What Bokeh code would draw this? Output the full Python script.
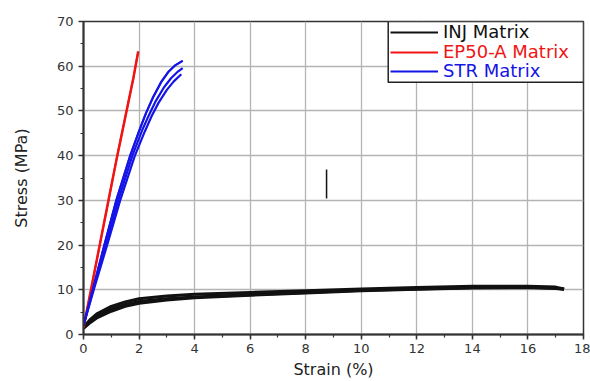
from bokeh.plotting import figure
from bokeh.models import Legend, LegendItem, BoxAnnotation, SingleIntervalTicker, Range1d
from bokeh.embed import file_html
from bokeh.resources import INLINE

# ---- data ----
inj_strain = [0, 0.25, 0.5, 1, 1.5, 2, 3, 4, 6, 8, 10, 12, 14, 16, 17, 17.3]
inj_stress_a = [1.6, 3.4, 4.7, 6.3, 7.3, 8.0, 8.6, 9.0, 9.4, 9.8, 10.2, 10.5, 10.8, 10.8, 10.6, 10.2]
inj_stress_b = [1.5, 3.0, 4.2, 5.7, 6.7, 7.4, 8.0, 8.4, 8.9, 9.4, 9.9, 10.2, 10.5, 10.5, 10.4, 10.1]
inj_stress_c = [1.4, 2.7, 3.8, 5.2, 6.3, 7.0, 7.7, 8.2, 8.8, 9.3, 9.8, 10.1, 10.4, 10.5, 10.3, 10.1]

ep_strain = [0, 0.3, 0.6, 0.9, 1.2, 1.5, 1.8, 1.97]
ep_stress = [1.5, 11, 20.5, 30, 39.5, 48.5, 57.5, 63.3]

str_strain_a = [0, 0.33, 0.75, 1.18, 1.68, 2.0, 2.25, 2.5, 2.8, 3.05, 3.3, 3.57]
str_stress_a = [2, 10, 20, 30, 40, 45.5, 49.5, 53, 56.5, 58.7, 60.2, 61.2]
str_strain_b = [0, 0.35, 0.8, 1.25, 1.76, 2.1, 2.35, 2.6, 2.9, 3.15, 3.4, 3.57]
str_stress_b = [2, 10, 20, 30, 40, 45.5, 49, 52.2, 55.3, 57.3, 58.8, 59.6]
str_strain_c = [0, 0.37, 0.85, 1.32, 1.85, 2.2, 2.45, 2.7, 3.0, 3.25, 3.52]
str_stress_c = [2, 10, 20, 30, 40, 45.3, 48.8, 51.8, 54.7, 56.6, 58.2]

mark_strain = [8.75]
mark_stress_low = [30.4]
mark_stress_high = [36.9]

series_names = ["INJ Matrix", "EP50-A Matrix", "STR Matrix"]
series_colors = ["#111111", "#f01414", "#1414e6"]

FONT = "DejaVu Sans"

p = figure(width=590, height=381, output_backend="svg", toolbar_location=None,
           x_range=Range1d(0, 18), y_range=Range1d(0, 70),
           min_border_left=83, min_border_right=7, min_border_top=21, min_border_bottom=46,
           x_axis_label="Strain (%)", y_axis_label="Stress (MPa)")
p.background_fill_color = "white"
p.border_fill_color = "white"
p.outline_line_color = "#333333"
p.outline_line_width = 1.5

p.xaxis.ticker = SingleIntervalTicker(interval=2, num_minor_ticks=2)
p.yaxis.ticker = SingleIntervalTicker(interval=10, num_minor_ticks=2)

for ax in (p.xaxis[0], p.yaxis[0]):
    ax.axis_line_width = 2
    ax.axis_line_color = "#333333"
    ax.major_tick_line_color = "#333333"
    ax.major_tick_line_width = 1.5
    ax.minor_tick_line_color = "#333333"
    ax.minor_tick_line_width = 1.2
    ax.major_tick_out = 5
    ax.major_tick_in = 0
    ax.minor_tick_out = 3
    ax.minor_tick_in = 0
    ax.major_label_text_font = FONT
    ax.major_label_text_font_size = "13px"
    ax.major_label_text_color = "#333333"
    ax.axis_label_text_font = FONT
    ax.axis_label_text_font_size = "16px"
    ax.axis_label_text_font_style = "normal"
    ax.axis_label_text_color = "#222222"
p.xaxis.major_label_standoff = 4
p.xaxis.axis_label_standoff = 4
p.yaxis.major_label_standoff = 5
p.yaxis.axis_label_standoff = 23

for g in (p.xgrid[0], p.ygrid[0]):
    g.grid_line_color = "#b4b4b4"
    g.grid_line_width = 1.3

# thin key lines (drawn first, covered by the thicker curves below)
key_inj = p.line(inj_strain, inj_stress_b, line_color=series_colors[0], line_width=1.8)
key_ep = p.line(ep_strain, ep_stress, line_color=series_colors[1], line_width=1.8)
key_str = p.line(str_strain_a, str_stress_a, line_color=series_colors[2], line_width=1.8)

# INJ (black band)
p.line(inj_strain, inj_stress_a, line_color=series_colors[0], line_width=3)
p.line(inj_strain, inj_stress_b, line_color=series_colors[0], line_width=3)
p.line(inj_strain, inj_stress_c, line_color=series_colors[0], line_width=3)
# EP50-A (red)
p.line(ep_strain, ep_stress, line_color=series_colors[1], line_width=2.5)
# STR (blue)
p.line(str_strain_a, str_stress_a, line_color=series_colors[2], line_width=2.2)
p.line(str_strain_b, str_stress_b, line_color=series_colors[2], line_width=2.2)
p.line(str_strain_c, str_stress_c, line_color=series_colors[2], line_width=2.2)

p.segment(x0=mark_strain, y0=mark_stress_low, x1=mark_strain, y1=mark_stress_high,
          line_color="#111111", line_width=1.5)

box = BoxAnnotation(left=10.97, right=18, bottom=56.4, top=70,
                    fill_color="white", fill_alpha=1.0,
                    line_color="#222222", line_alpha=1.0, line_width=1.5)
p.add_layout(box)

bottoms = [292, 272, 253]
for name, col, r, b in zip(series_names, series_colors, [key_inj, key_ep, key_str], bottoms):
    lg = Legend(items=[LegendItem(label=name, renderers=[r])], location=(307, b),
                orientation="vertical", padding=0, margin=0, spacing=0,
                glyph_width=48, glyph_height=20, label_height=20, label_standoff=5,
                label_text_font=FONT, label_text_font_size="18px",
                label_text_font_style="normal",
                label_text_color=col, border_line_alpha=0, background_fill_alpha=0)
    p.add_layout(lg)

open("out.html", "w").write(file_html(p, INLINE))
